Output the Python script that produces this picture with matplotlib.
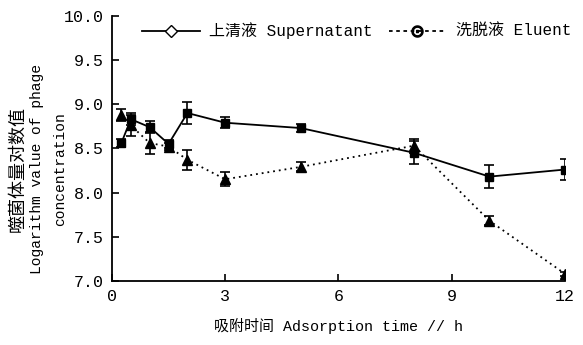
import numpy as np
import matplotlib.pyplot as plt
from matplotlib.lines import Line2D

plt.rcParams['font.family'] = ['Liberation Mono', 'Noto Sans CJK SC']

# adsorption time (h)
t = [0.25, 0.5, 1, 1.5, 2, 3, 5, 8, 10, 12]
# supernatant
sup = [8.56, 8.83, 8.74, 8.55, 8.90, 8.79, 8.73, 8.45, 8.18, 8.26]
sup_err = [0.05, 0.07, 0.07, 0.05, 0.12, 0.06, 0.05, 0.13, 0.13, 0.12]
# eluent
elu = [8.88, 8.76, 8.56, 8.52, 8.37, 8.15, 8.29, 8.53, 7.68, 7.08]
elu_err = [0.07, 0.12, 0.12, 0.04, 0.11, 0.08, 0.05, 0.08, 0.05, 0.02]

fig = plt.figure(figsize=(5.83, 3.45), dpi=100)
ax = fig.add_axes([0.192, 0.186, 0.777, 0.768])

ax.errorbar(t, elu, yerr=elu_err, color='black', ls=(0, (1, 2.2)), lw=1.3,
            marker='^', ms=7, capsize=3.5, elinewidth=1.2, capthick=1.2)
ax.errorbar(t, sup, yerr=sup_err, color='black', ls='-', lw=1.3,
            marker='s', ms=5.5, capsize=3.5, elinewidth=1.2, capthick=1.2)

ax.set_xlim(0, 12)
ax.set_ylim(7.0, 10.0)
ax.set_xticks([0, 3, 6, 9, 12])
ax.set_yticks(np.arange(7.0, 10.01, 0.5))
ax.set_yticklabels([f'{v:.1f}' for v in np.arange(7.0, 10.01, 0.5)])
ax.tick_params(direction='in', length=5, width=1.2, labelsize=12, pad=6)
for s in ['top', 'right']:
    ax.spines[s].set_visible(False)
for s in ['left', 'bottom']:
    ax.spines[s].set_linewidth(1.3)

ax.set_xlabel('吸附时间 Adsorption time // h', fontsize=10.8, labelpad=10)

# y label: three centred lines
fig.text(0.030, 0.51, '噬菌体量对数值', rotation=90, ha='center', va='center',
         fontsize=13)
fig.text(0.064, 0.51, 'Logarithm value of phage', rotation=90, ha='center',
         va='center', fontsize=10.5)
fig.text(0.103, 0.51, 'concentration', rotation=90, ha='center',
         va='center', fontsize=10.5)

handles = [
    Line2D([], [], color='black', ls='-', lw=1.3, marker='D', ms=6,
           mfc='white', mec='black'),
    Line2D([], [], color='black', ls=(0, (2, 2)), lw=1.3, marker=r'$\odot$',
           ms=8, mec='black'),
]
ax.legend(handles, ['上清液 Supernatant', '洗脱液 Eluent'], ncol=2,
          loc='upper center', bbox_to_anchor=(0.54, 1.03), frameon=False,
          fontsize=11.5, handlelength=3.6, columnspacing=1.0, handletextpad=0.6)

fig.savefig('out.png', dpi=100)
